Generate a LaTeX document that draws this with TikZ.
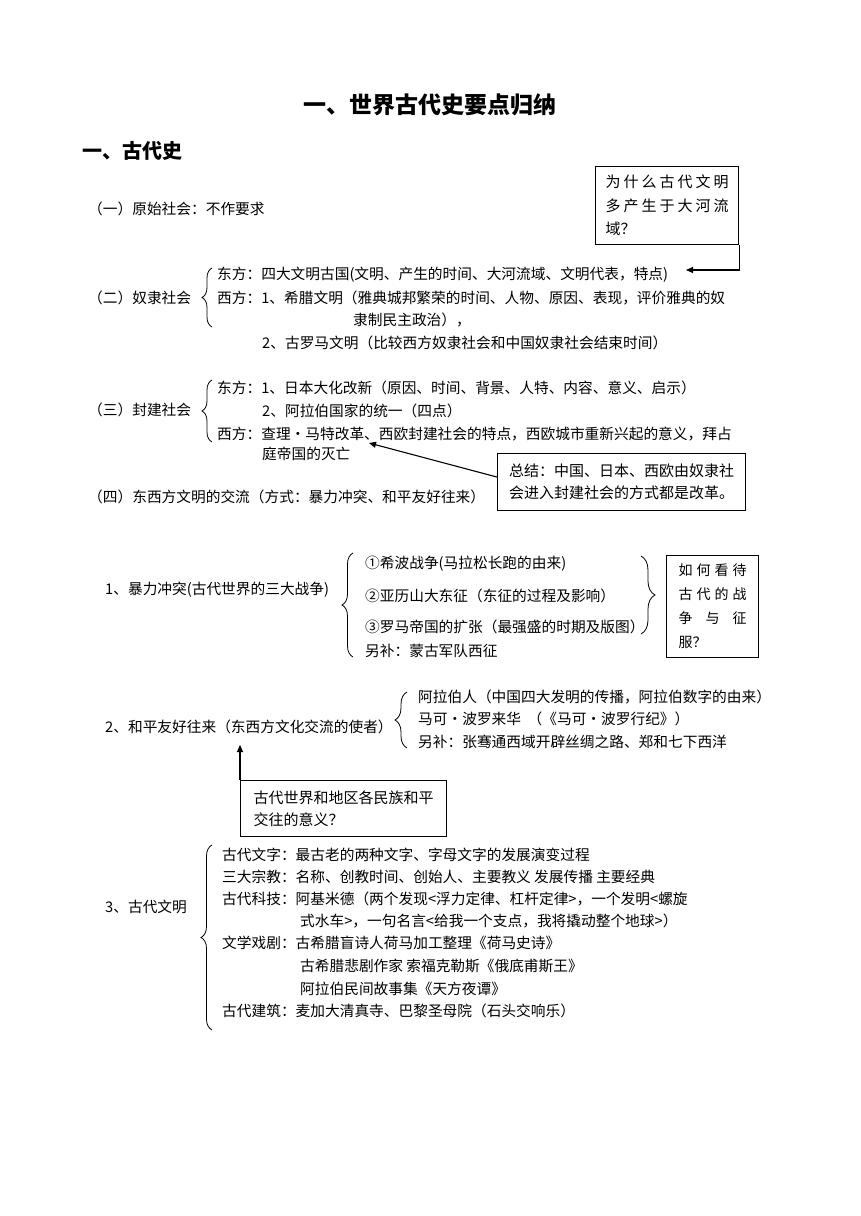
\documentclass[tikz,border=0pt]{standalone}
\usepackage{fontspec}
\setmainfont{Noto Sans CJK SC}
\usetikzlibrary{arrows.meta,decorations.pathreplacing}
\tikzset{
  txt/.style={anchor=west, inner sep=0pt, font=\fontsize{14.7}{18}\selectfont},
  bx/.style={draw, line width=1.1pt, anchor=north west, inner sep=0pt, align=left},
  arr/.style={-{Triangle[length=7pt,width=6pt]}, line width=1.1pt},
  brc/.style={decorate, decoration={brace, amplitude=#1}, line width=0.8pt},
}
\begin{document}
\begin{tikzpicture}[x=1pt,y=-1pt]
\fill[white] (0,0) rectangle (860,1216);
\useasboundingbox (0,0) rectangle (860,1216);

% titles
\node[inner sep=0pt, font=\fontsize{23}{28}\selectfont\bfseries] (title) at (430,105) {一、世界古代史要点归纳};
\node[txt, font=\fontsize{20}{24}\selectfont\bfseries] (sec) at (82,151) {一、古代史};

% (一)
\node[txt] (p1) at (88,209) {（一）原始社会：不作要求};
\node[bx, minimum width=143pt, minimum height=78pt, font=\fontsize{15}{23.5}\selectfont] (q1) at (595,166)
  {\makebox[123pt]{为\hfill 什\hfill 么\hfill 古\hfill 代\hfill 文\hfill 明}\\\makebox[123pt]{多\hfill 产\hfill 生\hfill 于\hfill 大\hfill 河\hfill 流}\\域？};

% (二)
\node[txt] (s2) at (88,298) {（二）奴隶社会};
\draw[brc=10pt] (212,327) -- (212,268);
\node[txt] (e2) at (217,275) {东方：四大文明古国(文明、产生的时间、大河流域、文明代表，特点)};
\node[txt] (w2) at (217,298) {西方：1、希腊文明（雅典城邦繁荣的时间、人物、原因、表现，评价雅典的奴};
\node[txt] (w2b) at (353,320) {隶制民主政治），};
\node[txt] (w2c) at (262,343) {2、古罗马文明（比较西方奴隶社会和中国奴隶社会结束时间）};
\coordinate (a1) at (686,270);
\draw[arr] (q1.south east) |- (a1);

% (三)
\node[txt] (s3) at (88,410) {（三）封建社会};
\draw[brc=10pt] (212,442) -- (212,380);
\node[txt] (e3) at (217,388) {东方：1、日本大化改新（原因、时间、背景、人特、内容、意义、启示）};
\node[txt] (e3b) at (262,411) {2、阿拉伯国家的统一（四点）};
\node[txt] (w3) at (217,434) {西方：查理·马特改革、西欧封建社会的特点，西欧城市重新兴起的意义，拜占};
\node[txt] (w3b) at (262,454) {庭帝国的灭亡};
\node[bx, minimum width=248pt, minimum height=57pt, font=\fontsize{15}{22}\selectfont] (q2) at (497,453)
  {总结：中国、日本、西欧由奴隶社\\会进入封建社会的方式都是改革。};
\coordinate (a2) at (369,443);
\draw[arr] ([yshift=5pt]q2.west) -- (a2);

% (四)
\node[txt] (s4) at (88,497) {（四）东西方文明的交流（方式：暴力冲突、和平友好往来）};

% 1
\node[txt] (c1) at (105,590) {1、暴力冲突(古代世界的三大战争)};
\draw[brc=11pt] (353,657) -- (353,553);
\node[txt] (c1a) at (365,564) {①希波战争(马拉松长跑的由来)};
\node[txt] (c1b) at (365,596) {②亚历山大东征（东征的过程及影响）};
\node[txt] (c1c) at (365,627) {③罗马帝国的扩张（最强盛的时期及版图）};
\node[txt] (c1d) at (365,651) {另补：蒙古军队西征};
\draw[brc=14pt] (641,556) -- (641,634);
\node[bx, minimum width=92pt, minimum height=102pt, font=\fontsize{14}{24}\selectfont] (q3) at (666,555)
  {\makebox[68pt]{如\hfill 何\hfill 看\hfill 待}\\\makebox[68pt]{古\hfill 代\hfill 的\hfill 战}\\\makebox[68pt]{争\hfill 与\hfill 征}\\服？};

% 2
\node[txt] (c2) at (105,727) {2、和平友好往来（东西方文化交流的使者）};
\draw[brc=12pt] (407,748) -- (407,692);
\node[txt] (c2a) at (418,697) {阿拉伯人（中国四大发明的传播，阿拉伯数字的由来）};
\node[txt] (c2b) at (418,719) {马可·波罗来华\ \ （《马可·波罗行纪》）};
\node[txt] (c2c) at (418,742) {另补：张骞通西域开辟丝绸之路、郑和七下西洋};
\node[bx, minimum width=206pt, minimum height=56pt, font=\fontsize{15}{22}\selectfont] (q4) at (240,780)
  {古代世界和地区各民族和平\\交往的意义？};
\coordinate (a4) at (240,745);
\draw[arr] (q4.north west) -- (a4);

% 3
\node[txt] (c3) at (105,907) {3、古代文明};
\draw[brc=11pt] (212,1030) -- (212,845);
\node[txt] (d1) at (222,855) {古代文字：最古老的两种文字、字母文字的发展演变过程};
\node[txt] (d2) at (222,877) {三大宗教：名称、创教时间、创始人、主要教义 发展传播 主要经典};
\node[txt] (d3) at (222,899) {古代科技：阿基米德（两个发现<浮力定律、杠杆定律>，一个发明<螺旋};
\node[txt] (d3b) at (300,921) {式水车>，一句名言<给我一个支点，我将撬动整个地球>）};
\node[txt] (d4) at (222,943) {文学戏剧：古希腊盲诗人荷马加工整理《荷马史诗》};
\node[txt] (d4b) at (300,966) {古希腊悲剧作家 索福克勒斯《俄底甫斯王》};
\node[txt] (d4c) at (300,989) {阿拉伯民间故事集《天方夜谭》};
\node[txt] (d5) at (222,1011) {古代建筑：麦加大清真寺、巴黎圣母院（石头交响乐）};
\end{tikzpicture}
\end{document}
